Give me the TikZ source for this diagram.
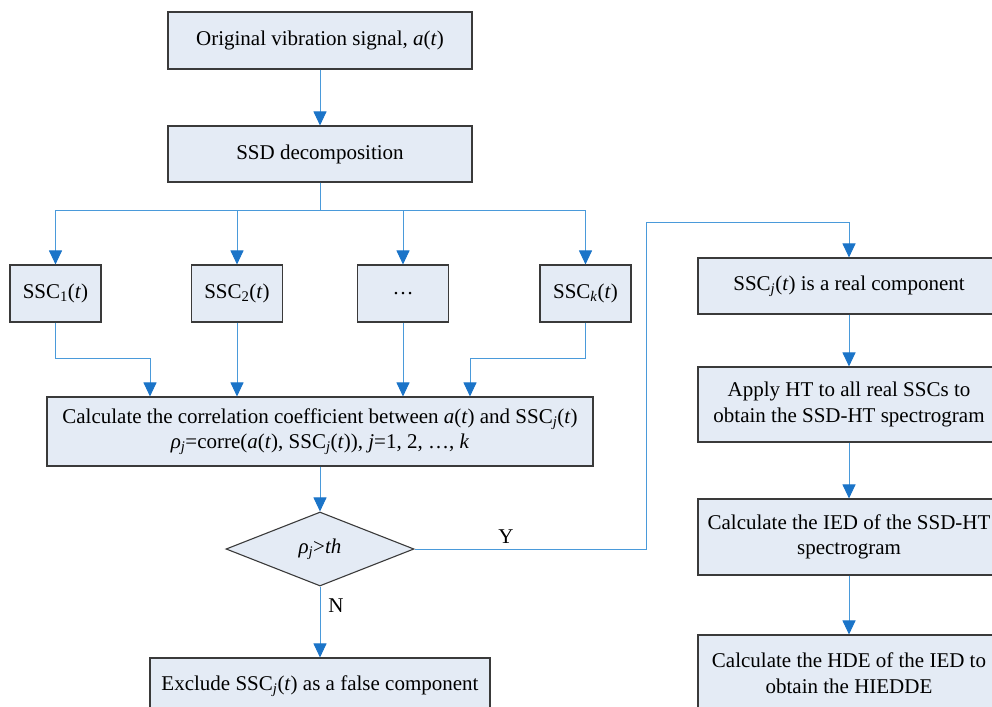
\documentclass[tikz,border=0pt]{standalone}
\usepackage{fontspec}
\setmainfont{Liberation Serif}
\usetikzlibrary{arrows.meta,shapes.geometric}
\definecolor{boxfill}{HTML}{E4EBF5}
\definecolor{linec}{HTML}{4A9ADA}
\definecolor{tipc}{HTML}{1B74C8}
\definecolor{edgec}{HTML}{3A3A3A}
\tikzset{
  box/.style={draw=edgec, fill=boxfill, line width=1.1pt, align=center, inner sep=2pt,
    font=\fontsize{21}{25.5}\selectfont},
  conn/.style={draw=linec, line width=1pt},
  arr/.style={conn, -{Triangle[width=13pt,length=14pt,color=tipc,fill=tipc]}},
  lbl/.style={font=\fontsize{21}{25.5}\selectfont, inner sep=0pt}
}
\begin{document}
\begin{tikzpicture}[x=1pt,y=-1pt]
\useasboundingbox (0,0) rectangle (992,706);
\clip (0,0) rectangle (992,706);
% left column
\node[box, minimum width=304pt, minimum height=57pt] (top) at (320,40.5) {Original vibration signal, \textit{a}(\textit{t})};
\node[box, minimum width=304pt, minimum height=56pt] (ssd) at (320,154) {SSD decomposition};
\node[box, minimum width=91pt, minimum height=57pt] (ssc1) at (55.5,293.5) {SSC\textsubscript{1}(\textit{t})};
\node[box, minimum width=91pt, minimum height=57pt] (ssc2) at (237,293.5) {SSC\textsubscript{2}(\textit{t})};
\node[box, minimum width=91pt, minimum height=57pt] (sscd) at (403,293.5) {…};
\node[box, minimum width=91pt, minimum height=57pt] (ssck) at (585.5,293.5) {SSC\textsubscript{\textit{k}}(\textit{t})};
\node[box, minimum width=546pt, minimum height=69pt] (calc) at (320,431.5) {Calculate the correlation coefficient between \textit{a}(\textit{t}) and SSC\textsubscript{\textit{j}}(\textit{t})\\[-1pt]\textit{ρ}\textsubscript{\textit{j}}=corre(\textit{a}(\textit{t}), SSC\textsubscript{\textit{j}}(\textit{t})), \textit{j}=1, 2, …, \textit{k}};
\node[box, diamond, minimum width=188pt, minimum height=74pt, inner sep=0pt] (dia) at (320,549) {\textit{ρ}\textsubscript{\textit{j}}>\textit{th}};
\node[box, minimum width=340pt, minimum height=57pt] (excl) at (320,686.5) {Exclude SSC\textsubscript{\textit{j}}(\textit{t}) as a false component};
% right column
\node[box, minimum width=302pt, minimum height=56pt] (real) at (849,286) {SSC\textsubscript{\textit{j}}(\textit{t}) is a real component};
\node[box, minimum width=302pt, minimum height=75pt] (apply) at (849,404.5) {Apply HT to all real SSCs to\\obtain the SSD-HT spectrogram};
\node[box, minimum width=302pt, minimum height=76pt] (ied) at (849,537) {Calculate the IED of the SSD-HT\\spectrogram};
\node[box, minimum width=302pt, minimum height=76pt] (hde) at (849,673) {Calculate the HDE of the IED to\\obtain the HIEDDE};
% labels
\node[lbl] (ylab) at (506,537) {Y};
\node[lbl] (nlab) at (336,606) {N};
% coordinates
\coordinate (j1) at (150,358);
\coordinate (jk) at (470,358);
\coordinate (yb) at (646,222);
% connectors
\draw[arr] (top.south) -- (ssd.north);
\draw[arr] (ssd.south) -- ++(0,28) -| (ssc1.north);
\draw[arr] (ssd.south) -- ++(0,28) -| (ssc2.north);
\draw[arr] (ssd.south) -- ++(0,28) -| (sscd.north);
\draw[arr] (ssd.south) -- ++(0,28) -| (ssck.north);
\draw[arr] (ssc1.south) |- (j1) -- (j1 |- calc.north);
\draw[arr] (ssc2.south) -- (ssc2.south |- calc.north);
\draw[arr] (sscd.south) -- (sscd.south |- calc.north);
\draw[arr] (ssck.south) |- (jk) -- (jk |- calc.north);
\draw[arr] (calc.south) -- (dia.north);
\draw[arr] (dia.south) -- (excl.north);
\draw[arr] (dia.east) -| (yb) -| (real.north);
\draw[arr] (real.south) -- (apply.north);
\draw[arr] (apply.south) -- (ied.north);
\draw[arr] (ied.south) -- (hde.north);
\end{tikzpicture}
\end{document}
